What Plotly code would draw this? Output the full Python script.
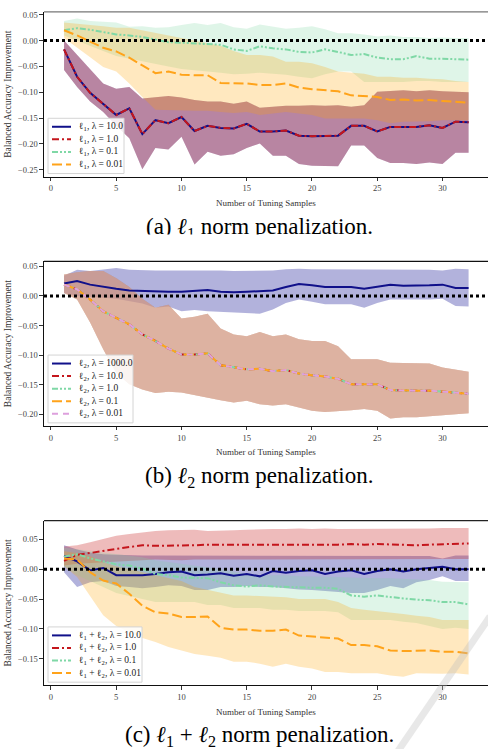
import plotly.graph_objects as go

# ---------------- data ----------------
N_SAMPLES = [1, 2, 3, 4, 5, 6, 7, 8, 9, 10, 11, 12, 13, 14, 15, 16,
             17, 18, 19, 20, 21, 22, 23, 24, 25, 26, 27, 28, 29, 30, 31, 32]

X_TICKS = [0, 5, 10, 15, 20, 25, 30]
X_TICK_LABELS = ["0", "5", "10", "15", "20", "25", "30"]
Y_TICKS_A = [0.05, 0.0, -0.05, -0.10, -0.15, -0.20, -0.25]
Y_TICKS_B = [0.05, 0.0, -0.05, -0.10, -0.15, -0.20]
Y_TICKS_C = [0.05, 0.0, -0.05, -0.10, -0.15]

# (a) l1 penalization -- lambda=10 and lambda=1 coincide
L1_STRONG_MEAN = [-0.017, -0.070, -0.101, -0.122, -0.144, -0.131, -0.181, -0.154, -0.160, -0.148, -0.175, -0.165,
                  -0.169, -0.170, -0.161, -0.176, -0.176, -0.174, -0.184, -0.185, -0.184, -0.184, -0.165, -0.165,
                  -0.176, -0.167, -0.167, -0.167, -0.164, -0.169, -0.157, -0.158]
L1_STRONG_HI = [0.000, -0.028, -0.054, -0.083, -0.093, -0.090, -0.112, -0.109, -0.107, -0.110, -0.115, -0.118,
                -0.118, -0.122, -0.118, -0.130, -0.128, -0.126, -0.126, -0.125, -0.126, -0.125, -0.128, -0.125,
                -0.099, -0.098, -0.096, -0.098, -0.096, -0.098, -0.099, -0.100]
L1_STRONG_LO = [-0.057, -0.090, -0.118, -0.138, -0.165, -0.189, -0.249, -0.208, -0.211, -0.186, -0.240, -0.215,
                -0.223, -0.220, -0.208, -0.199, -0.223, -0.223, -0.239, -0.242, -0.242, -0.243, -0.203, -0.203,
                -0.227, -0.237, -0.237, -0.239, -0.236, -0.239, -0.217, -0.217]
L1_MID_MEAN = [0.020, 0.024, 0.021, 0.016, 0.012, 0.010, 0.007, 0.002, -0.003, -0.004, -0.005, -0.007,
               -0.008, -0.017, -0.020, -0.011, -0.015, -0.017, -0.022, -0.023, -0.017, -0.022, -0.028, -0.026,
               -0.033, -0.036, -0.036, -0.030, -0.035, -0.035, -0.036, -0.037]
L1_MID_HI = [0.038, 0.043, 0.038, 0.037, 0.035, 0.027, 0.028, 0.025, 0.026, 0.030, 0.034, 0.030,
             0.034, 0.026, 0.023, 0.031, 0.027, 0.023, 0.025, 0.028, 0.022, 0.014, 0.014, 0.012,
             0.008, 0.010, 0.007, 0.007, 0.005, 0.006, 0.005, 0.005]
L1_MID_LO = [0.010, 0.000, -0.010, -0.020, -0.030, -0.035, -0.040, -0.045, -0.050, -0.055, -0.058, -0.060,
             -0.062, -0.065, -0.064, -0.062, -0.064, -0.066, -0.070, -0.073, -0.065, -0.060, -0.060, -0.080,
             -0.080, -0.080, -0.080, -0.078, -0.078, -0.080, -0.080, -0.080]
L1_WEAK_MEAN = [0.020, 0.010, -0.002, -0.014, -0.021, -0.033, -0.048, -0.063, -0.060, -0.066, -0.067, -0.067,
                -0.082, -0.083, -0.083, -0.086, -0.086, -0.083, -0.091, -0.094, -0.096, -0.098, -0.106, -0.107,
                -0.109, -0.115, -0.114, -0.116, -0.115, -0.117, -0.118, -0.120]
L1_WEAK_HI = [0.035, 0.032, 0.030, 0.028, 0.025, 0.025, 0.020, 0.015, 0.010, 0.005, 0.000, -0.005,
              -0.010, -0.020, -0.028, -0.028, -0.031, -0.041, -0.041, -0.044, -0.051, -0.060, -0.062, -0.064,
              -0.070, -0.070, -0.072, -0.072, -0.074, -0.075, -0.078, -0.080]
L1_WEAK_LO = [0.005, -0.014, -0.032, -0.051, -0.060, -0.083, -0.109, -0.134, -0.134, -0.135, -0.136, -0.136,
              -0.138, -0.140, -0.138, -0.144, -0.141, -0.138, -0.141, -0.144, -0.151, -0.152, -0.151, -0.151,
              -0.154, -0.160, -0.157, -0.157, -0.156, -0.154, -0.154, -0.154]

# (b) l2 penalization -- lambda = 10, 1, 0.1, 0.01 coincide
L2_1000_MEAN = [0.021, 0.025, 0.019, 0.015, 0.012, 0.009, 0.008, 0.007, 0.007, 0.007, 0.008, 0.010,
                0.007, 0.006, 0.007, 0.008, 0.009, 0.015, 0.020, 0.018, 0.015, 0.015, 0.015, 0.012,
                0.016, 0.019, 0.017, 0.017, 0.018, 0.019, 0.0135, 0.0135]
L2_1000_HI = [0.034, 0.044, 0.042, 0.044, 0.047, 0.044, 0.043, 0.043, 0.043, 0.043, 0.043, 0.044,
              0.043, 0.042, 0.042, 0.042, 0.043, 0.045, 0.046, 0.045, 0.045, 0.044, 0.045, 0.044,
              0.044, 0.044, 0.044, 0.044, 0.044, 0.043, 0.046, 0.045]
L2_1000_LO = [0.005, 0.000, -0.001, -0.003, -0.005, -0.009, -0.013, -0.020, -0.018, -0.026, -0.024, -0.026,
              -0.028, -0.029, -0.029, -0.030, -0.023, -0.012, -0.006, -0.010, -0.014, -0.014, -0.014, -0.020,
              -0.012, -0.006, -0.006, -0.006, -0.006, -0.005, -0.017, -0.018]
L2_REST_MEAN = [0.019, 0.011, -0.006, -0.026, -0.037, -0.048, -0.065, -0.076, -0.089, -0.099, -0.099, -0.097,
                -0.117, -0.121, -0.124, -0.123, -0.127, -0.125, -0.131, -0.134, -0.136, -0.140, -0.149, -0.149,
                -0.149, -0.159, -0.160, -0.160, -0.160, -0.162, -0.163, -0.165]
L2_REST_HI = [0.036, 0.040, 0.042, 0.042, 0.030, 0.015, -0.005, -0.020, -0.015, -0.038, -0.035, -0.030,
              -0.055, -0.065, -0.068, -0.061, -0.068, -0.065, -0.073, -0.076, -0.076, -0.085, -0.107, -0.107,
              -0.107, -0.113, -0.113, -0.113, -0.114, -0.121, -0.125, -0.128]
L2_REST_LO = [0.005, -0.006, -0.045, -0.090, -0.130, -0.149, -0.158, -0.164, -0.162, -0.163, -0.168, -0.172,
              -0.176, -0.180, -0.177, -0.183, -0.185, -0.183, -0.188, -0.194, -0.196, -0.194, -0.193, -0.191,
              -0.194, -0.207, -0.205, -0.205, -0.204, -0.202, -0.200, -0.198]

# (c) l1 + l2 penalization
L12_10_MEAN = [0.022, 0.013, -0.002, 0.002, -0.010, -0.010, -0.010, -0.008, -0.005, -0.004, -0.010, -0.009,
               -0.007, -0.011, -0.008, -0.012, -0.003, -0.006, -0.003, -0.002, -0.008, -0.004, -0.002, -0.008,
               -0.003, 0.000, -0.004, 0.000, 0.002, 0.004, 0.000, 0.000]
L12_10_HI = [0.040, 0.033, 0.028, 0.025, 0.024, 0.023, 0.023, 0.023, 0.023, 0.023, 0.022, 0.022,
             0.022, 0.022, 0.023, 0.023, 0.023, 0.022, 0.023, 0.023, 0.022, 0.023, 0.023, 0.023,
             0.022, 0.023, 0.022, 0.023, 0.022, 0.018, 0.023, 0.023]
L12_10_LO = [-0.005, -0.030, -0.022, -0.020, -0.028, -0.030, -0.032, -0.030, -0.027, -0.028, -0.035, -0.035,
             -0.030, -0.030, -0.028, -0.030, -0.030, -0.032, -0.034, -0.035, -0.036, -0.038, -0.040, -0.040,
             -0.035, -0.028, -0.032, -0.022, -0.018, -0.012, -0.020, -0.020]
L12_1_MEAN = [0.014, 0.024, 0.027, 0.031, 0.034, 0.037, 0.040, 0.039, 0.039, 0.039, 0.040, 0.041,
              0.041, 0.041, 0.040, 0.041, 0.041, 0.041, 0.041, 0.041, 0.041, 0.041, 0.042, 0.041,
              0.042, 0.041, 0.041, 0.040, 0.041, 0.042, 0.042, 0.043]
L12_1_HI = [0.038, 0.040, 0.045, 0.050, 0.056, 0.059, 0.062, 0.064, 0.065, 0.065, 0.066, 0.064,
            0.064, 0.065, 0.066, 0.067, 0.067, 0.067, 0.068, 0.067, 0.068, 0.067, 0.067, 0.068,
            0.067, 0.067, 0.067, 0.068, 0.068, 0.069, 0.069, 0.069]
L12_1_LO = [0.006, 0.009, 0.011, 0.012, 0.013, 0.014, 0.015, 0.016, 0.016, 0.015, 0.016, 0.016,
            0.017, 0.016, 0.016, 0.017, 0.016, 0.016, 0.017, 0.016, 0.016, 0.017, 0.016, 0.016,
            0.017, 0.016, 0.016, 0.017, 0.017, 0.016, 0.017, 0.017]
L12_01_MEAN = [0.021, 0.025, 0.018, 0.013, 0.008, 0.006, 0.001, -0.008, -0.010, -0.014, -0.014, -0.015,
               -0.022, -0.027, -0.029, -0.027, -0.029, -0.030, -0.030, -0.031, -0.031, -0.033, -0.044, -0.046,
               -0.044, -0.047, -0.049, -0.051, -0.052, -0.055, -0.055, -0.059]
L12_01_HI = [0.036, 0.034, 0.031, 0.028, 0.025, 0.022, 0.020, 0.015, 0.012, 0.010, 0.006, 0.004,
             0.000, -0.004, -0.008, -0.010, -0.010, -0.010, -0.012, -0.012, -0.012, -0.013, -0.014, -0.015,
             -0.015, -0.015, -0.016, -0.017, -0.018, -0.021, -0.022, -0.022]
L12_01_LO = [0.005, -0.010, -0.020, -0.030, -0.040, -0.045, -0.050, -0.055, -0.055, -0.055, -0.055, -0.060,
             -0.060, -0.065, -0.065, -0.065, -0.068, -0.068, -0.070, -0.070, -0.070, -0.072, -0.085, -0.085,
             -0.085, -0.085, -0.088, -0.090, -0.095, -0.100, -0.098, -0.100]
L12_001_MEAN = [0.018, 0.016, -0.005, -0.019, -0.024, -0.041, -0.061, -0.072, -0.074, -0.080, -0.080, -0.079,
                -0.098, -0.101, -0.101, -0.103, -0.103, -0.101, -0.111, -0.113, -0.115, -0.116, -0.127, -0.127,
                -0.129, -0.136, -0.137, -0.136, -0.136, -0.138, -0.138, -0.141]
L12_001_HI = [0.030, 0.027, 0.022, 0.012, 0.005, 0.000, -0.005, -0.010, -0.015, -0.020, -0.030, -0.035,
              -0.040, -0.044, -0.044, -0.045, -0.045, -0.047, -0.050, -0.050, -0.050, -0.055, -0.065, -0.068,
              -0.070, -0.072, -0.075, -0.078, -0.080, -0.085, -0.085, -0.085]
L12_001_LO = [0.005, -0.013, -0.044, -0.077, -0.095, -0.105, -0.115, -0.122, -0.130, -0.136, -0.142, -0.145,
              -0.148, -0.155, -0.155, -0.158, -0.163, -0.158, -0.163, -0.166, -0.172, -0.172, -0.174, -0.174,
              -0.174, -0.178, -0.180, -0.174, -0.174, -0.175, -0.174, -0.176]

LABELS_A = ["ℓ<sub>1</sub>, λ = 10.0", "ℓ<sub>1</sub>, λ = 1.0", "ℓ<sub>1</sub>, λ = 0.1", "ℓ<sub>1</sub>, λ = 0.01"]
LABELS_B = ["ℓ<sub>2</sub>, λ = 1000.0", "ℓ<sub>2</sub>, λ = 10.0", "ℓ<sub>2</sub>, λ = 1.0",
            "ℓ<sub>2</sub>, λ = 0.1", "ℓ<sub>2</sub>, λ = 0.01"]
LABELS_C = ["ℓ<sub>1</sub> + ℓ<sub>2</sub>, λ = 10.0", "ℓ<sub>1</sub> + ℓ<sub>2</sub>, λ = 1.0",
            "ℓ<sub>1</sub> + ℓ<sub>2</sub>, λ = 0.1", "ℓ<sub>1</sub> + ℓ<sub>2</sub>, λ = 0.01"]
CAPTIONS = ["(a) <i>ℓ</i><sub>1</sub> norm penalization.",
            "(b) <i>ℓ</i><sub>2</sub> norm penalization.",
            "(c) <i>ℓ</i><sub>1</sub> + <i>ℓ</i><sub>2</sub> norm penalization."]
X_TITLE = "Number of Tuning Samples"
Y_TITLE = "Balanced Accuracy Improvement"

# ---------------- styles ----------------
W, H = 488, 749
SERIF = "Liberation Serif"
NAVY = "#10108a"
RED = "#c4161c"
GREEN = "#7fd8a6"
ORANGE = "#ffa31a"
PLUM = "#dda0dd"
FILL = {NAVY: "rgba(0,0,139,0.30)", RED: "rgba(200,30,30,0.30)", GREEN: "rgba(128,216,164,0.25)",
        ORANGE: "rgba(255,165,0,0.25)", PLUM: "rgba(221,160,221,0.30)"}
D_SOLID, D_DASHDOT, D_DDOT, D_DASH, D_PLUM = "solid", "7px,3px,2px,3px", "6px,2px,2px,2px,2px,2px", "10px,4px", "6px,5px"

def px_x(p):
    return p / W

def px_y(p):
    return 1 - p / H

AX_LEFT = 44
X_RANGE = [-0.536, 33.487]
PANELS = [
    dict(top=10, bottom=175, yr=[-0.2631, 0.0554], ticks=Y_TICKS_A, legw=76, topcol="#777777"),
    dict(top=260, bottom=425, yr=[-0.2194, 0.0584], ticks=Y_TICKS_B, legw=85, topcol="#111111"),
    dict(top=520, bottom=685, yr=[-0.1940, 0.0812], ticks=Y_TICKS_C, legw=94, topcol="#222222"),
]
CAPTION_Y = [227, 476, 736]

SERIES = [
    [(L1_STRONG_MEAN, L1_STRONG_HI, L1_STRONG_LO, NAVY, D_SOLID),
     (L1_STRONG_MEAN, L1_STRONG_HI, L1_STRONG_LO, RED, D_DASHDOT),
     (L1_MID_MEAN, L1_MID_HI, L1_MID_LO, GREEN, D_DDOT),
     (L1_WEAK_MEAN, L1_WEAK_HI, L1_WEAK_LO, ORANGE, D_DASH)],
    [(L2_1000_MEAN, L2_1000_HI, L2_1000_LO, NAVY, D_SOLID),
     (L2_REST_MEAN, L2_REST_HI, L2_REST_LO, RED, D_DASHDOT),
     (L2_REST_MEAN, L2_REST_HI, L2_REST_LO, GREEN, D_DDOT),
     (L2_REST_MEAN, L2_REST_HI, L2_REST_LO, ORANGE, D_DASH),
     (L2_REST_MEAN, L2_REST_HI, L2_REST_LO, PLUM, D_PLUM)],
    [(L12_10_MEAN, L12_10_HI, L12_10_LO, NAVY, D_SOLID),
     (L12_1_MEAN, L12_1_HI, L12_1_LO, RED, D_DASHDOT),
     (L12_01_MEAN, L12_01_HI, L12_01_LO, GREEN, D_DDOT),
     (L12_001_MEAN, L12_001_HI, L12_001_LO, ORANGE, D_DASH)],
]
LABELS = [LABELS_A, LABELS_B, LABELS_C]

fig = go.Figure()
shapes = []
annotations = []


def tick_text(v):
    s = "%.2f" % abs(v)
    return ("\u2212" + s) if v < 0 else s


for k, panel in enumerate(PANELS):
    sfx = "" if k == 0 else str(k + 1)
    xa, ya = "x" + sfx, "y" + sfx
    for mean, hi, lo, col, dash in SERIES[k]:
        fig.add_trace(go.Scatter(x=N_SAMPLES + N_SAMPLES[::-1], y=hi + lo[::-1], fill="toself",
                                 fillcolor=FILL[col], line=dict(width=0), mode="lines",
                                 hoverinfo="skip", showlegend=False, xaxis=xa, yaxis=ya))
    for mean, hi, lo, col, dash in SERIES[k]:
        fig.add_trace(go.Scatter(x=N_SAMPLES, y=mean, mode="lines",
                                 line=dict(color=col, width=2, dash=dash),
                                 showlegend=False, xaxis=xa, yaxis=ya))
    axis_common = dict(showgrid=False, zeroline=False, ticks="outside", ticklen=3.5, tickwidth=1,
                       tickcolor="#333", tickfont=dict(family=SERIF, size=8.5, color="#444"),
                       showline=True, linecolor="#111", linewidth=1.2)
    fig.layout["xaxis" + sfx] = dict(
        domain=[px_x(AX_LEFT), 1.0], anchor=ya, range=X_RANGE, tickvals=X_TICKS, ticktext=X_TICK_LABELS,
        title=dict(text=X_TITLE, font=dict(family=SERIF, size=9, color="#333"), standoff=7),
        mirror=False, **axis_common)
    fig.layout["yaxis" + sfx] = dict(
        domain=[px_y(panel["bottom"]), px_y(panel["top"])], anchor=xa, range=panel["yr"],
        tickvals=panel["ticks"], ticktext=[tick_text(v) for v in panel["ticks"]],
        title=dict(text=Y_TITLE, font=dict(family=SERIF, size=9.5, color="#333"), standoff=4),
        **axis_common)
    shapes.append(dict(type="line", xref="paper", yref="paper", x0=px_x(AX_LEFT), x1=1.0,
                       y0=px_y(panel["top"]), y1=px_y(panel["top"]),
                       line=dict(color=panel["topcol"], width=1.2)))
    shapes.append(dict(type="line", xref=xa + " domain", yref=ya, x0=0, x1=1, y0=0, y1=0,
                       line=dict(color="black", width=3, dash="dot"), layer="above"))
    labels = LABELS[k]
    n = len(labels)
    row = 12.6
    lb = panel["bottom"] - 3
    lt = lb - (n * row + 5)
    ll = 48
    shapes.append(dict(type="rect", xref="paper", yref="paper", x0=px_x(ll), x1=px_x(ll + panel["legw"]),
                       y0=px_y(lb), y1=px_y(lt), fillcolor="rgba(255,255,255,0.85)",
                       line=dict(color="#d4d4d4", width=1), layer="above"))
    for i, (lab, ser) in enumerate(zip(labels, SERIES[k])):
        yc = lt + 8.5 + i * row
        shapes.append(dict(type="line", xref="paper", yref="paper", x0=px_x(ll + 4), x1=px_x(ll + 23),
                           y0=px_y(yc), y1=px_y(yc), line=dict(color=ser[3], width=2, dash=ser[4]),
                           layer="above"))
        annotations.append(dict(text=lab, xref="paper", yref="paper", x=px_x(ll + 29), y=px_y(yc),
                                xanchor="left", yanchor="middle", showarrow=False,
                                font=dict(family=SERIF, size=9.5, color="#222")))
    annotations.append(dict(text=CAPTIONS[k], xref="paper", yref="paper", x=px_x(259), y=px_y(CAPTION_Y[k]),
                            xanchor="center", yanchor="middle", showarrow=False,
                            font=dict(family=SERIF, size=23, color="black")))

# the first caption is cut at the bottom in the source image
annotations.append(dict(text=" ", xref="paper", yref="paper", x=px_x(259), y=px_y(233),
                        xanchor="center", yanchor="top", showarrow=False, width=340, height=18,
                        bgcolor="white", borderpad=0, font=dict(size=4)))

# faint diagonal watermark stroke at the lower right
shapes.append(dict(type="line", xref="paper", yref="paper", x0=px_x(490), y0=px_y(616), x1=px_x(398),
                   y1=px_y(751), line=dict(color="rgba(190,190,190,0.35)", width=7), layer="above"))

fig.update_layout(width=W, height=H, margin=dict(l=0, r=0, t=0, b=0), paper_bgcolor="white",
                  plot_bgcolor="white", showlegend=False, shapes=shapes, annotations=annotations,
                  font=dict(family=SERIF))

fig.write_html("out.html")
